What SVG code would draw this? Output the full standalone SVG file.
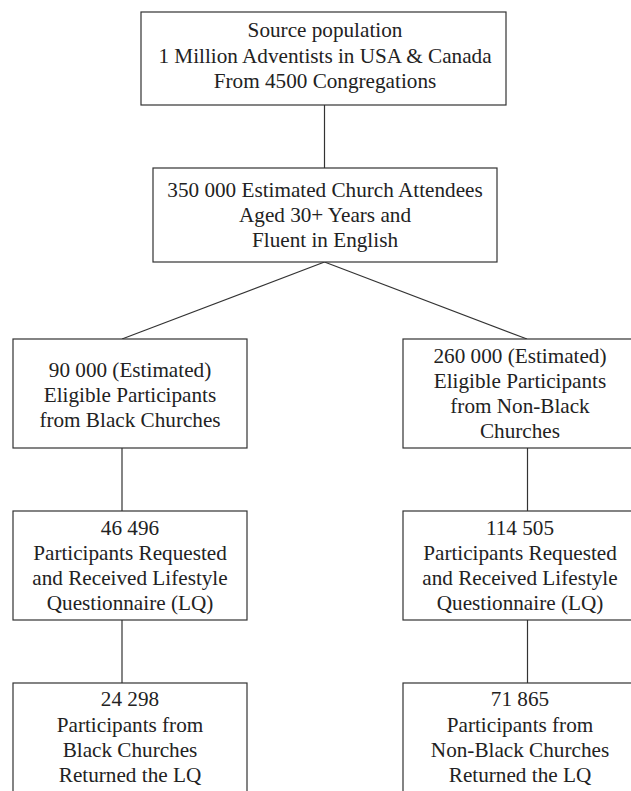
<svg xmlns="http://www.w3.org/2000/svg" width="631" height="791" viewBox="0 0 631 791">
<style>
.box{fill:#fff;stroke:#333;stroke-width:1.2}
.ln{stroke:#333;stroke-width:1.2;fill:none}
.t{font-family:'Liberation Serif','DejaVu Serif',serif;font-size:21.2px;fill:#222;text-anchor:middle}
</style>
<rect width="631" height="791" fill="#fff"/>
<g id="connectors">
<line class="ln" x1="324.5" y1="105" x2="324.5" y2="168"/>
<line class="ln" x1="324.5" y1="262" x2="122" y2="339"/>
<line class="ln" x1="324.5" y1="262" x2="527" y2="339"/>
<line class="ln" x1="122" y1="448" x2="122" y2="511"/>
<line class="ln" x1="527.5" y1="448" x2="527.5" y2="511"/>
<line class="ln" x1="122" y1="620" x2="122" y2="683"/>
<line class="ln" x1="527.5" y1="620" x2="527.5" y2="683"/>
</g>
<g class="t" font-family="Liberation Serif, serif">
<g id="source">
<rect class="box" x="141" y="12" width="365" height="93"/>
<text x="325" y="37">Source population</text>
<text x="325" y="63">1 Million Adventists in USA &amp; Canada</text>
<text x="325" y="88">From 4500 Congregations</text>
</g>
<g id="attendees">
<rect class="box" x="153" y="168" width="344" height="94"/>
<text x="325" y="197">350 000 Estimated Church Attendees</text>
<text x="325" y="222">Aged 30+ Years and</text>
<text x="325" y="247">Fluent in English</text>
</g>
<g id="eligible-black">
<rect class="box" x="13" y="339" width="234" height="109"/>
<text x="130" y="377">90 000 (Estimated)</text>
<text x="130" y="402">Eligible Participants</text>
<text x="130" y="427">from Black Churches</text>
</g>
<g id="eligible-nonblack">
<rect class="box" x="403" y="339" width="236" height="109"/>
<text x="520" y="363">260 000 (Estimated)</text>
<text x="520" y="388">Eligible Participants</text>
<text x="520" y="413">from Non-Black</text>
<text x="520" y="438">Churches</text>
</g>
<g id="lq-black">
<rect class="box" x="13" y="511" width="234" height="109"/>
<text x="130" y="535">46 496</text>
<text x="130" y="560">Participants Requested</text>
<text x="130" y="585">and Received Lifestyle</text>
<text x="130" y="610">Questionnaire (LQ)</text>
</g>
<g id="lq-nonblack">
<rect class="box" x="403" y="511" width="236" height="109"/>
<text x="520" y="535">114 505</text>
<text x="520" y="560">Participants Requested</text>
<text x="520" y="585">and Received Lifestyle</text>
<text x="520" y="610">Questionnaire (LQ)</text>
</g>
<g id="returned-black">
<rect class="box" x="13" y="683" width="234" height="130"/>
<text x="130" y="706">24 298</text>
<text x="130" y="731.5">Participants from</text>
<text x="130" y="756.5">Black Churches</text>
<text x="130" y="781.5">Returned the LQ</text>
</g>
<g id="returned-nonblack">
<rect class="box" x="403" y="683" width="236" height="130"/>
<text x="520" y="706">71 865</text>
<text x="520" y="731.5">Participants from</text>
<text x="520" y="756.5">Non-Black Churches</text>
<text x="520" y="781.5">Returned the LQ</text>
</g>
</g>
</svg>
